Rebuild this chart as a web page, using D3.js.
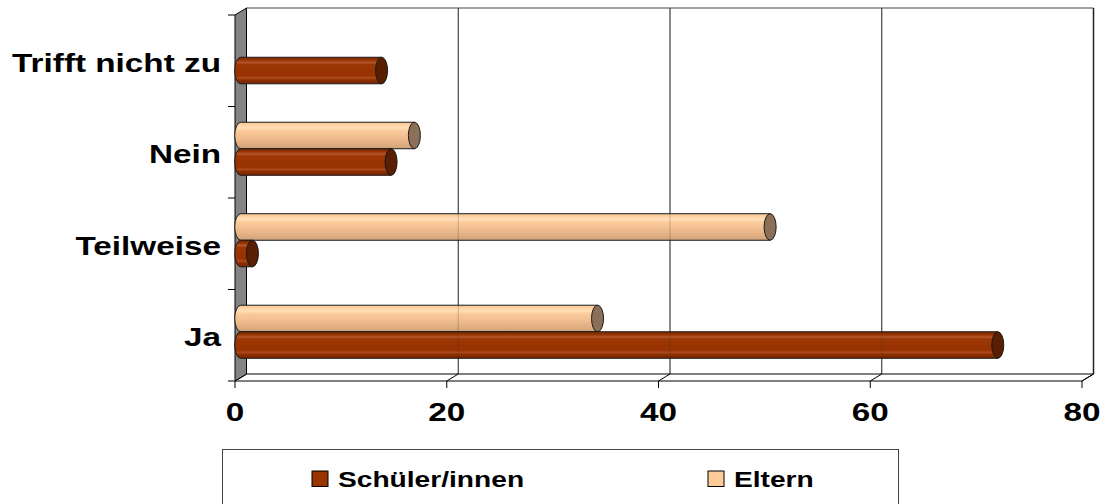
<!DOCTYPE html>
<html><head><meta charset="utf-8">
<script src="https://cdn.jsdelivr.net/npm/d3@7"></script>
<style>
body{margin:0;background:#fff}
svg{display:block}
text{font-family:"Liberation Sans",Arial,Helvetica,sans-serif;font-weight:bold;fill:#000}
</style></head>
<body><svg id="c" width="1104" height="504"></svg>
<script>
// ---- data ----
const categories = ["Ja", "Teilweise", "Nein", "Trifft nicht zu"];
const schueler = [71.5, 1.1, 14.2, 13.3];
const eltern = [33.7, 50.0, 16.4, 0];
const xTicks = [0, 20, 40, 60, 80];
const seriesNames = ["Schüler/innen", "Eltern"];

// ---- setup ----
const svg = d3.select("#c");
const DX = 11.5, DY = -7;           // 3D depth offset
const SX = 1.28;                    // horizontal text stretch
const x = d3.scaleLinear().domain([0, 80]).range([235, 1082]);
const y = d3.scaleBand().domain(categories.slice().reverse()).range([15, 381])
  .paddingInner(0.42).paddingOuter(0.21);
const sub = d3.scaleBand().domain(["Eltern", "Schüler/innen"]).range([0, y.bandwidth()]);
const colors = {"Schüler/innen": "#993300", "Eltern": "#FFCC99"};
const capColors = {"Schüler/innen": "#5a1e02", "Eltern": "#8b6f56"};

const defs = svg.append("defs");
function grad(id, stops) {
  const g = defs.append("linearGradient").attr("id", id).attr("x1", 0).attr("y1", 0).attr("x2", 0).attr("y2", 1);
  stops.forEach(s => g.append("stop").attr("offset", s[0]).attr("stop-color", s[1]));
}
grad("gS", [[0, "#7e2a00"], [0.1, "#923200"], [0.2, "#b5562a"], [0.27, "#9d3806"], [0.5, "#993300"], [0.7, "#983304"], [0.78, "#ad4a1b"], [0.86, "#8c2f00"], [1, "#782600"]]);
grad("gE", [[0, "#f2c496"], [0.12, "#ffd4a6"], [0.22, "#ffdfb8"], [0.32, "#fccb9b"], [0.6, "#efbc8d"], [0.82, "#e0ae82"], [1, "#cca27c"]]);
const gradId = {"Schüler/innen": "url(#gS)", "Eltern": "url(#gE)"};

const x0 = x(0), x1 = x(80), yTop = 15, yBot = 381;

// back wall
svg.append("rect").attr("x", x0 + DX).attr("y", yTop + DY).attr("width", x1 - x0).attr("height", yBot - yTop)
  .attr("fill", "#fff");
svg.append("line").attr("x1", x0 + DX).attr("x2", x1 + DX).attr("y1", yTop + DY).attr("y2", yTop + DY)
  .attr("stroke", "#808080").attr("stroke-width", 1.5);
svg.append("line").attr("x1", x1 + DX).attr("x2", x1 + DX).attr("y1", yTop + DY).attr("y2", yBot + DY)
  .attr("stroke", "#222").attr("stroke-width", 1.5);

// gridlines on back wall
svg.selectAll("line.grid").data(xTicks.filter(t => t > 0 && t < 80)).enter().append("line")
  .attr("class", "grid")
  .attr("x1", d => x(d) + DX).attr("x2", d => x(d) + DX)
  .attr("y1", yTop + DY).attr("y2", yBot + DY)
  .attr("stroke", "#333").attr("stroke-width", 1);

// floor
svg.append("polygon")
  .attr("points", [[x0, yBot], [x0 + DX, yBot + DY], [x1 + DX, yBot + DY], [x1, yBot]].map(p => p.join(",")).join(" "))
  .attr("fill", "#fff").attr("stroke", "#000").attr("stroke-width", 1);
svg.selectAll("path.floortick").data(xTicks).enter().append("path")
  .attr("class", "floortick")
  .attr("d", d => `M${x(d)},${yBot + 7}L${x(d)},${yBot}L${x(d) + DX},${yBot + DY}`)
  .attr("fill", "none").attr("stroke", "#000").attr("stroke-width", 1);

// left wall
svg.append("polygon")
  .attr("points", [[x0, yTop], [x0 + DX, yTop + DY], [x0 + DX, yBot + DY], [x0, yBot]].map(p => p.join(",")).join(" "))
  .attr("fill", "#848484").attr("stroke", "#000").attr("stroke-width", 1);

// category ticks
const catTicks = [yTop].concat(y.domain().map(c => y(c) - y.step() * y.paddingInner() / 2 + y.step()));
svg.selectAll("line.ctick").data(catTicks).enter().append("line")
  .attr("x1", x0 - 7).attr("x2", x0).attr("y1", d => d).attr("y2", d => d)
  .attr("stroke", "#000").attr("stroke-width", 1);

// bars (cylinders)
const barData = [];
categories.forEach((c, i) => {
  barData.push({cat: c, name: "Eltern", v: eltern[i]});
  barData.push({cat: c, name: "Schüler/innen", v: schueler[i]});
});
const bars = svg.append("g").selectAll("g").data(barData.filter(d => d.v > 0)).enter().append("g");
const RX = 6;
bars.append("path")
  .attr("d", d => {
    const t = y(d.cat) + DY / 2 + sub(d.name), b = t + sub.bandwidth();
    const a = x(0) + DX / 2, e = x(d.v) + DX / 2, ry = sub.bandwidth() / 2;
    return `M${a},${t}L${e},${t}L${e},${b}L${a},${b}A${RX},${ry} 0 0 1 ${a},${t}Z`;
  })
  .attr("fill", d => gradId[d.name]).attr("stroke", "#1a1a1a").attr("stroke-width", 1);
bars.append("ellipse")
  .attr("cx", d => x(d.v) + DX / 2)
  .attr("cy", d => y(d.cat) + DY / 2 + sub(d.name) + sub.bandwidth() / 2)
  .attr("rx", RX).attr("ry", sub.bandwidth() / 2)
  .attr("fill", d => capColors[d.name]).attr("stroke", "#1a1a1a").attr("stroke-width", 1);

// faint gridline show-through
svg.selectAll("line.grid2").data(xTicks.filter(t => t > 0 && t < 80)).enter().append("line")
  .attr("x1", d => x(d) + DX).attr("x2", d => x(d) + DX)
  .attr("y1", yTop + DY).attr("y2", yBot + DY)
  .attr("stroke", "#333").attr("stroke-width", 1).attr("opacity", 0.25);

// category labels
svg.selectAll("text.cat").data(categories).enter().append("text")
  .attr("transform", d => `translate(221,${y(d) + y.bandwidth() / 2 + 11}) scale(${SX},1)`)
  .attr("text-anchor", "end").style("font-size", "26px").text(d => d);

// x tick labels
svg.selectAll("text.xt").data(xTicks).enter().append("text")
  .attr("transform", d => `translate(${x(d)},420.5) scale(${SX},1)`)
  .attr("text-anchor", "middle").style("font-size", "26px").text(d => d);

// legend
const lg = svg.append("g");
lg.append("rect").attr("x", 222.5).attr("y", 449.5).attr("width", 676).attr("height", 80)
  .attr("fill", "#fff").attr("stroke", "#444").attr("stroke-width", 1);
const legX = [312, 708];
seriesNames.forEach((n, i) => {
  lg.append("rect").attr("x", legX[i]).attr("y", 471).attr("width", 16).attr("height", 15.5)
    .attr("fill", colors[n]).attr("stroke", "#000").attr("stroke-width", 1);
  lg.append("text").attr("transform", `translate(${legX[i] + 26},486.5) scale(${SX},1)`)
    .style("font-size", "22px").text(n);
});
</script></body></html>
